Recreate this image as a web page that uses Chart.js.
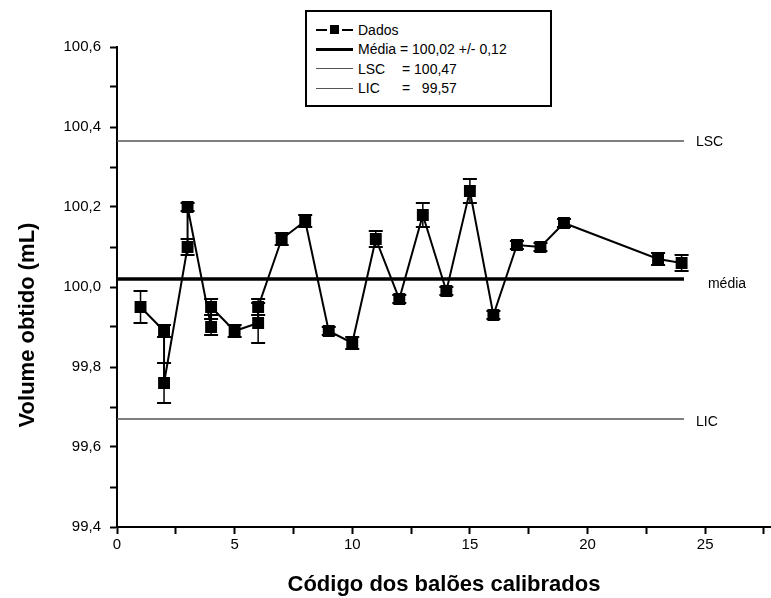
<!DOCTYPE html>
<html lang="pt">
<head>
  <meta charset="UTF-8" />
  <title>Volume obtido por balão calibrado</title>
  <script src="https://cdn.jsdelivr.net/npm/chart.js@4.4.0/dist/chart.umd.min.js"></script>
  <style>
    * { margin: 0; padding: 0; box-sizing: border-box; }
    html, body { background: #fff; font-family: 'Liberation Sans', Arial, sans-serif; overflow: hidden; }
    .wrap { position: relative; width: 771px; height: 598px; overflow: hidden; }
    #legend {
      position: absolute; left: 305px; top: 10px; width: 247px; height: 97px;
      border: 2px solid #000; background: #fff; padding: 8px 0 0 9px;
      font-size: 14px; color: #000;
    }
    #legend .row { height: 19.5px; display: flex; align-items: center; white-space: pre; }
    #legend .sym { position: relative; width: 37px; height: 0; border-top: 1.5px solid #000; margin-right: 5px; }
    #legend .sym.dados { border-top: 2px solid #000; }
    #legend .sym.dados i {
      position: absolute; left: 14px; top: -6px; width: 9px; height: 9px; background: #000;
      box-shadow: 0 0 0 3px #fff;
    }
    #legend .sym.media { border-top: 3.5px solid #000; }
    #legend .sym.lim { border-top: 1.5px solid #555; }
    #legend .lbl { display: inline-block; width: 44px; }
  </style>
</head>
<body>
  <div class="wrap">
    <!-- o canvas passa um pouco da janela para o eixo x chegar à borda, como no original -->
    <canvas id="chart" width="780" height="598"></canvas>
    <div id="legend">
      <div class="row"><span class="sym dados"><i></i></span>Dados</div>
      <div class="row"><span class="sym media"></span>Média = 100,02 +/- 0,12</div>
      <div class="row"><span class="sym lim"></span><span class="lbl">LSC</span>= 100,47</div>
      <div class="row"><span class="sym lim"></span><span class="lbl">LIC</span>=   99,57</div>
    </div>
  </div>

  <script>
    // codigo do balao (x) e volume obtido (mL), com replicatas no mesmo codigo
    const codes   = [1, 2, 2, 3, 3, 4, 4, 5, 6, 6, 7, 8, 9, 10, 11, 12, 13, 14, 15, 16, 17, 18, 19, 23, 24];
    const volumes = [99.95, 99.89, 99.76, 100.10, 100.20, 99.90, 99.95, 99.89, 99.91, 99.95,
                     100.12, 100.165, 99.89, 99.86, 100.12, 99.97, 100.18, 99.99, 100.24, 99.93,
                     100.105, 100.10, 100.16, 100.07, 100.06];
    const errors  = [0.04, 0.015, 0.05, 0.02, 0.01, 0.02, 0.02, 0.015, 0.05, 0.02,
                     0.015, 0.015, 0.01, 0.015, 0.02, 0.01, 0.03, 0.01, 0.03, 0.01,
                     0.01, 0.01, 0.01, 0.015, 0.02];

    // linhas de controle
    const media = 100.02;
    const lsc = 100.365;
    const lic = 99.67;
    const limitStart = 0;
    const limitEnd = 24.1;
    const limitLabels = ["LSC", "média", "LIC"];

    const xTicksMajor = [0, 5, 10, 15, 20, 25];
    const yTicksMajor = [99.4, 99.6, 99.8, 100.0, 100.2, 100.4, 100.6];
    const yTitle = "Volume obtido (mL)";

    const pts = codes.map((c, i) => ({ x: c, y: volumes[i] }));
    const hline = v => [{ x: limitStart, y: v }, { x: limitEnd, y: v }];

    const errorBars = {
      id: "errorBars",
      afterDatasetsDraw(chart) {
        const { ctx, scales: { x, y } } = chart;
        ctx.save();
        ctx.strokeStyle = "#000";
        codes.forEach((c, i) => {
          const px = x.getPixelForValue(c);
          const top = y.getPixelForValue(volumes[i] + errors[i]);
          const bot = y.getPixelForValue(volumes[i] - errors[i]);
          ctx.lineWidth = 1.5;
          ctx.beginPath();
          ctx.moveTo(px, top); ctx.lineTo(px, bot);
          ctx.stroke();
          ctx.lineWidth = 2;
          ctx.beginPath();
          ctx.moveTo(px - 7, top); ctx.lineTo(px + 7, top);
          ctx.moveTo(px - 7, bot); ctx.lineTo(px + 7, bot);
          ctx.stroke();
        });
        ctx.restore();
      }
    };

    const textLabels = {
      id: "textLabels",
      afterDraw(chart) {
        const { ctx, scales: { x, y } } = chart;
        const lx = x.getPixelForValue(limitEnd) + 12;
        ctx.save();
        ctx.fillStyle = "#000";
        ctx.font = "14px 'Liberation Sans', Arial, sans-serif";
        ctx.textBaseline = "middle";
        ctx.fillText(limitLabels[0], lx, y.getPixelForValue(lsc) + 1);
        ctx.fillText(limitLabels[1], lx + 12, y.getPixelForValue(media) + 5);
        ctx.fillText(limitLabels[2], lx, y.getPixelForValue(lic) + 3);

        // titulo do eixo y, um pouco abaixo do centro como no original
        ctx.translate(28, 325);
        ctx.rotate(-Math.PI / 2);
        ctx.textAlign = "center";
        ctx.font = "bold 22px 'Liberation Sans', Arial, sans-serif";
        ctx.fillText(yTitle, 0, 0);
        ctx.restore();
      }
    };

    new Chart(document.getElementById("chart"), {
      type: "line",
      data: {
        datasets: [
          {
            label: "Dados",
            data: pts,
            borderColor: "#000",
            backgroundColor: "#000",
            borderWidth: 2,
            pointStyle: "rect",
            pointRadius: 7,
            tension: 0
          },
          { label: "Média", data: hline(media), borderColor: "#000", borderWidth: 3.5, pointRadius: 0 },
          { label: "LSC", data: hline(lsc), borderColor: "#555", borderWidth: 1.5, pointRadius: 0 },
          { label: "LIC", data: hline(lic), borderColor: "#555", borderWidth: 1.5, pointRadius: 0 }
        ]
      },
      options: {
        responsive: false,
        animation: false,
        layout: { padding: { top: 47, right: 0, left: 0, bottom: 0 } },
        plugins: { legend: { display: false }, tooltip: { enabled: false } },
        scales: {
          x: {
            type: "linear",
            min: 0, max: 27.8,
            afterFit: s => { s.height = 71; },
            ticks: {
              stepSize: 2.5, autoSkip: false, maxRotation: 0, padding: 2, includeBounds: false,
              color: "#000", font: { size: 15 },
              callback: v => xTicksMajor.includes(v) ? v : ""
            },
            grid: { drawOnChartArea: false, tickLength: 7, color: "#000", tickWidth: 2 },
            border: { color: "#000", width: 2 },
            title: {
              display: true, text: "Código dos balões calibrados", color: "#000",
              font: { size: 22, weight: "bold" }, padding: { top: 2, bottom: 0 }
            }
          },
          y: {
            min: 99.4, max: 100.6,
            afterFit: s => { s.width = 117; },
            ticks: {
              stepSize: 0.1, autoSkip: false, padding: 9,
              color: "#000", font: { size: 15 },
              callback: v => {
                const m = yTicksMajor.find(t => Math.abs(t - v) < 1e-6);
                return m === undefined ? "" : m.toFixed(1).replace(".", ",");
              }
            },
            grid: { drawOnChartArea: false, tickLength: 7, color: "#000", tickWidth: 2 },
            border: { color: "#000", width: 2 }
          }
        }
      },
      plugins: [errorBars, textLabels]
    });
  </script>
</body>
</html>
